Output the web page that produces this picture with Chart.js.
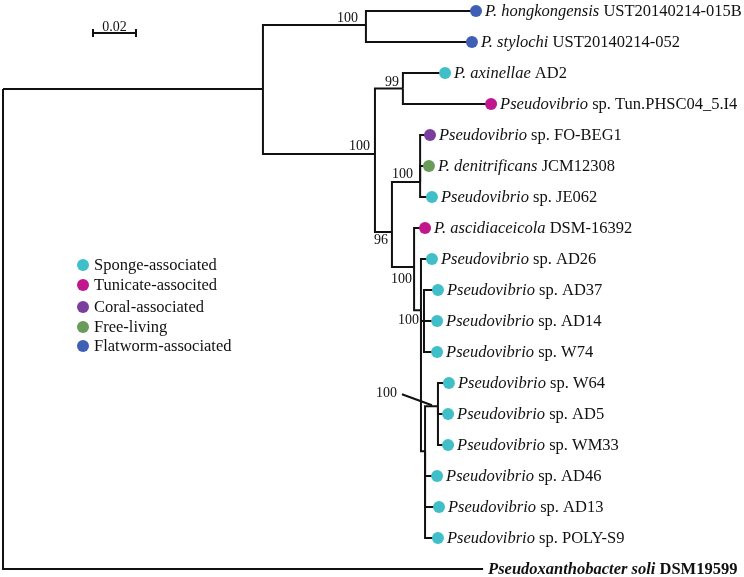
<!DOCTYPE html>
<html>
<head>
<meta charset="utf-8">
<script src="https://cdn.jsdelivr.net/npm/chart.js@4/dist/chart.umd.min.js"></script>
<style>
  html, body { margin: 0; padding: 0; background: #fff; }
  #tree { display: block; }
</style>
</head>
<body>
<canvas id="tree" width="744" height="577"></canvas>
<script>
// leaves, top to bottom (row = index)
const leafItalic = ['P. hongkongensis', 'P. stylochi', 'P. axinellae', 'Pseudovibrio', 'Pseudovibrio',
  'P. denitrificans', 'Pseudovibrio', 'P. ascidiaceicola', 'Pseudovibrio', 'Pseudovibrio', 'Pseudovibrio',
  'Pseudovibrio', 'Pseudovibrio', 'Pseudovibrio', 'Pseudovibrio', 'Pseudovibrio', 'Pseudovibrio',
  'Pseudovibrio', 'Pseudoxanthobacter soli'];
const leafPlain = [' UST20140214-015B', ' UST20140214-052', ' AD2', ' sp. Tun.PHSC04_5.I4', ' sp. FO-BEG1',
  ' JCM12308', ' sp. JE062', ' DSM-16392', ' sp. AD26', ' sp. AD37', ' sp. AD14', ' sp. W74', ' sp. W64',
  ' sp. AD5', ' sp. WM33', ' sp. AD46', ' sp. AD13', ' sp. POLY-S9', ' DSM19599'];
// -1 = outgroup (no dot, bold label)
const leafGroup = [4, 4, 0, 1, 2, 3, 0, 1, 0, 0, 0, 0, 0, 0, 0, 0, 0, 0, -1];
const leafDist = [0.2200, 0.2181, 0.2056, 0.2270, 0.1986, 0.1981, 0.1995, 0.1963, 0.1995, 0.2023,
  0.2019, 0.2019, 0.2074, 0.2070, 0.2070, 0.2019, 0.2028, 0.2023, 0.2233];
const leafParent = ['C', 'C', 'D', 'D', 'F', 'F', 'F', 'G', 'H', 'J', 'J', 'J', 'I', 'I', 'I', 'K', 'K', 'K', 'R'];

// internal nodes
const nodeNames = ['R', 'A', 'C', 'B', 'D', 'E', 'F', 'G', 'H', 'J', 'K', 'I'];
const nodeParent = [null, 'R', 'A', 'A', 'B', 'B', 'E', 'E', 'G', 'H', 'H', 'K'];
const nodeDist = [0, 0.1209, 0.1688, 0.1730, 0.1860, 0.1809, 0.1940, 0.1912, 0.1944, 0.1958, 0.1963, 0.2023];
const nodeRow = [2.52, 2.52, 0.45, 4.61, 2.5, 7.13, 5.52, 8.26, 9.65, 10, 14.2, 12.75];
const nodeSupport = [null, null, 100, 100, 99, 96, 100, 100, 100, null, null, 100];

const groupNames = ['Sponge-associated', 'Tunicate-associted', 'Coral-associated', 'Free-living', 'Flatworm-associated'];
const groupColors = ['#40bfc8', '#c0188c', '#7a3f9e', '#6b9b5b', '#3f5fb5'];

const scaleBarValue = 0.02;

// ---- build datasets ----
const nodeIndex = name => nodeNames.indexOf(name);
const nodePoint = name => ({ x: nodeDist[nodeIndex(name)], y: nodeRow[nodeIndex(name)] });

const branchSets = [];
function addEdge(parentName, child) {
  const p = nodePoint(parentName);
  branchSets.push({
    type: 'line',
    data: [p, { x: p.x, y: child.y }, child],
    borderColor: '#111',
    borderWidth: 2,
    pointRadius: 0,
    tension: 0,
    fill: false,
    clip: false,
    order: 2,
  });
}
nodeNames.forEach((n, i) => {
  if (nodeParent[i]) addEdge(nodeParent[i], { x: nodeDist[i], y: nodeRow[i] });
});
leafDist.forEach((d, i) => addEdge(leafParent[i], { x: d, y: i }));

const dotSets = groupNames.map((g, gi) => ({
  type: 'scatter',
  label: g,
  data: leafDist.map((d, i) => ({ x: d, y: i })).filter((p, i) => leafGroup[i] === gi),
  backgroundColor: groupColors[gi],
  borderWidth: 0,
  pointRadius: 6,
  pointHoverRadius: 6,
  clip: false,
  order: 1,
}));

const serif = '"Liberation Serif", "Times New Roman", serif';

// label offsets for support values, px from the node
const supportPos = { C: [-8, -7], B: [-5, -8], D: [-4, -6], E: [-4, 8], F: [-7, -8], G: [-2, 12], H: [-2, 10] };

const treeText = {
  id: 'treeText',
  afterDatasetsDraw(chart) {
    const ctx = chart.ctx;
    const xs = chart.scales.x, ys = chart.scales.y;
    ctx.save();
    ctx.fillStyle = '#111';
    ctx.textBaseline = 'middle';

    // leaf labels
    leafItalic.forEach((it, i) => {
      const out = leafGroup[i] < 0;
      let x = xs.getPixelForValue(leafDist[i]) + (out ? 5 : 9);
      const y = ys.getPixelForValue(i) + 1;
      ctx.textAlign = 'left';
      ctx.font = (out ? 'italic bold ' : 'italic ') + '16.5px ' + serif;
      ctx.fillText(it, x, y);
      x += ctx.measureText(it).width;
      ctx.font = (out ? 'bold ' : '') + '16.5px ' + serif;
      ctx.fillText(leafPlain[i], x, y);
    });

    // support values
    ctx.font = '14px ' + serif;
    ctx.textAlign = 'right';
    nodeNames.forEach((n, i) => {
      if (nodeSupport[i] == null) return;
      const nx = xs.getPixelForValue(nodeDist[i]);
      const ny = ys.getPixelForValue(nodeRow[i]);
      if (supportPos[n]) {
        ctx.fillText(String(nodeSupport[i]), nx + supportPos[n][0], ny + supportPos[n][1]);
      } else {
        // leader line
        ctx.fillText(String(nodeSupport[i]), nx - 41, ny - 13);
        ctx.beginPath();
        ctx.lineWidth = 2;
        ctx.strokeStyle = '#111';
        ctx.moveTo(nx - 36, ny - 12);
        ctx.lineTo(nx - 6, ny - 1);
        ctx.stroke();
      }
    });

    // scale bar
    const len = xs.getPixelForValue(scaleBarValue) - xs.getPixelForValue(0);
    const bx = 93, by = 33;
    ctx.beginPath();
    ctx.lineWidth = 2;
    ctx.strokeStyle = '#111';
    ctx.moveTo(bx, by); ctx.lineTo(bx + len, by);
    ctx.moveTo(bx, by - 4); ctx.lineTo(bx, by + 4);
    ctx.moveTo(bx + len, by - 4); ctx.lineTo(bx + len, by + 4);
    ctx.stroke();
    ctx.textAlign = 'center';
    ctx.fillText(String(scaleBarValue), bx + len / 2, by - 6);

    // legend
    const legendY = [265, 285, 307, 327, 346];
    ctx.textAlign = 'left';
    ctx.font = '16.5px ' + serif;
    groupNames.forEach((g, gi) => {
      ctx.beginPath();
      ctx.fillStyle = groupColors[gi];
      ctx.arc(83, legendY[gi], 6, 0, Math.PI * 2);
      ctx.fill();
      ctx.fillStyle = '#111';
      ctx.fillText(g, 94, legendY[gi] + 1);
    });
    ctx.restore();
  }
};

new Chart(document.getElementById('tree').getContext('2d'), {
  type: 'scatter',
  data: { datasets: [...branchSets, ...dotSets] },
  options: {
    responsive: false,
    animation: false,
    layout: { padding: 0, autoPadding: false },
    scales: {
      x: { type: 'linear', display: false, min: -0.0014, max: 0.34465 },
      y: { type: 'linear', display: false, reverse: true, min: -0.3548, max: 18.258 },
    },
    plugins: {
      legend: { display: false },
      tooltip: { enabled: false },
    },
    events: [],
  },
  plugins: [treeText],
});
</script>
</body>
</html>
